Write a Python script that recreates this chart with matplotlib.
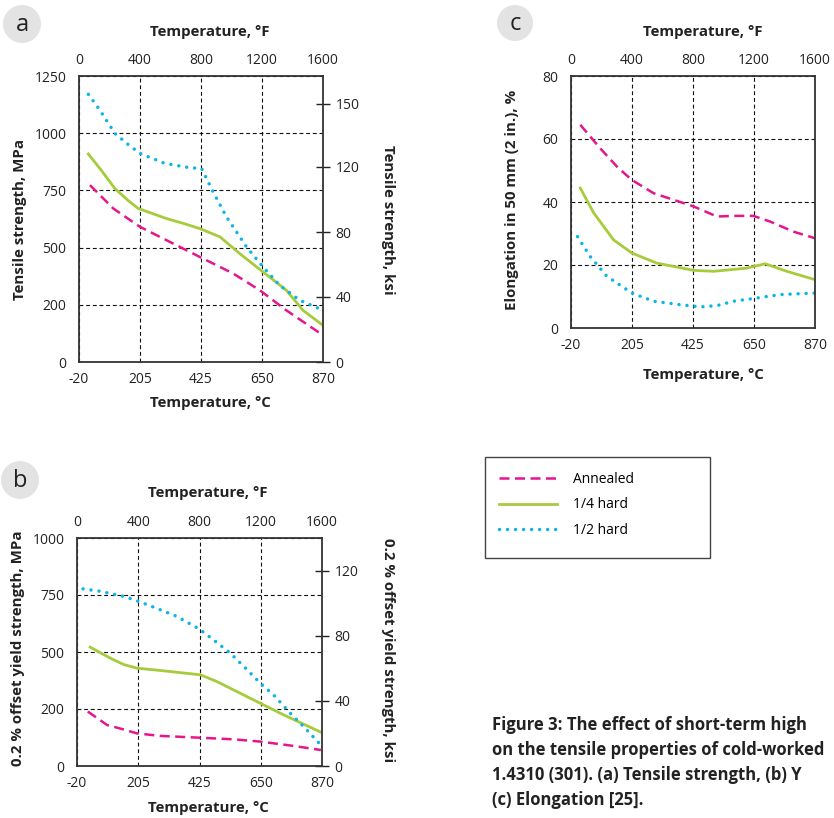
import matplotlib
matplotlib.use("Agg")
import matplotlib.pyplot as plt
from matplotlib.patches import Circle, Rectangle
from matplotlib.lines import Line2D
import numpy as np

plt.rcParams['font.family'] = ['Open Sans', 'DejaVu Sans']

W, H = 834, 818

# x axis (deg C) tick labels, and matching deg F labels on top
c_ticks = ["-20", "205", "425", "650", "870"]
f_ticks = ["0", "400", "800", "1200", "1600"]

# panel a: tensile strength, MPa
a_ann_x = [20, 105, 202, 323, 421, 542, 639, 736, 870]
a_ann_y = [773, 671, 591, 518, 459, 387, 314, 226, 117]
a_q_x = [14, 60, 111, 160, 196, 250, 299, 360, 421, 494, 566, 651, 736, 797, 870]
a_q_y = [909, 840, 758, 705, 671, 648, 627, 606, 583, 547, 474, 394, 314, 226, 160]
a_h_x = [14, 56, 111, 160, 202, 293, 384, 427, 439, 469, 518, 591, 651, 712, 785, 870]
a_h_y = [1170, 1101, 999, 950, 912, 868, 849, 846, 817, 744, 634, 503, 416, 335, 270, 226]
a_left_ticks = ["0", "200", "500", "750", "1000", "1250"]
a_right_ticks = ["0", "40", "80", "120", "150"]

# panel b: 0.2 % offset yield strength, MPa
b_ann_x = [19, 89, 150, 198, 283, 428, 549, 646, 767, 866]
b_ann_y = [239, 180, 160, 143, 132, 124, 117, 107, 88, 70]
b_q_x = [28, 101, 150, 198, 283, 428, 489, 573, 646, 731, 870]
b_q_y = [521, 473, 445, 429, 419, 400, 370, 319, 275, 224, 146]
b_h_x = [2, 65, 150, 204, 283, 343, 425, 476, 537, 598, 646, 694, 755, 803, 866]
b_h_y = [777, 766, 744, 722, 685, 656, 600, 553, 495, 422, 363, 312, 231, 173, 92]
b_left_ticks = ["0", "200", "500", "750", "1000"]
b_right_ticks = ["0", "40", "80", "120"]

# panel c: elongation, %
c_ann_x = [14, 87, 150, 202, 281, 427, 512, 580, 645, 706, 791, 870]
c_ann_y = [64.5, 57, 51, 47, 42.8, 38.6, 35.4, 35.6, 35.6, 33.8, 30.6, 28.5]
c_q_x = [14, 63, 135, 202, 293, 427, 500, 621, 688, 767, 864]
c_q_y = [44.4, 36.5, 28, 23.8, 20.6, 18.3, 18, 19, 20.4, 18, 15.5]
c_h_x = [4, 50, 111, 202, 281, 378, 451, 512, 573, 657, 742, 870]
c_h_y = [29, 22.7, 16.4, 11.1, 8.5, 7.4, 6.7, 7.1, 8.5, 9.5, 10.6, 11.1]

labels = ["Annealed", "1/4 hard", "1/2 hard"]
MAG, GRN, CYN = "#e5168c", "#a6cb3b", "#0bb5e6"
styles = [
    dict(color=MAG, lw=1.8, ls=(0, (4.0, 2.2))),
    dict(color=GRN, lw=2.0, ls="-"),
    dict(color=CYN, lw=2.5, ls=(0, (0.01, 2.3)), dash_capstyle="round"),
]

fig = plt.figure(figsize=(W / 100, H / 100), dpi=100)


def fx(px):
    return px / W


def fy(py):
    return 1 - py / H


def panel(box, series, ymax, left_labels, right=None):
    x0, y0, x1, y1 = box
    ax = fig.add_axes([fx(x0), fy(y1), fx(x1) - fx(x0), fy(y0) - fy(y1)])
    for (xs, ys), st in zip(series, styles):
        ax.plot(xs, ys, **st)
    ax.set_xlim(-20, 870)
    ax.set_ylim(0, ymax)
    xt = np.linspace(-20, 870, 5)
    ax.set_xticks(xt, c_ticks)
    yt = np.linspace(0, ymax, len(left_labels))
    ax.set_yticks(yt, left_labels)
    ax.tick_params(length=0, labelsize=10, colors="#222222")
    ax.tick_params(axis="x", pad=7)
    ax.tick_params(axis="y", pad=9)
    ax.grid(True, color="#111111", lw=0.8, ls=(0, (3.5, 2.5)))
    for s in ax.spines.values():
        s.set_color("#333333")
        s.set_linewidth(1.3)
    top = ax.secondary_xaxis("top")
    top.set_xticks(xt, f_ticks)
    top.tick_params(length=0, labelsize=10, pad=6, colors="#222222")
    top.spines["top"].set_visible(False)
    if right is not None:
        rmax, rpos, rlabs = right
        k = rmax / ymax
        sec = ax.secondary_yaxis("right", functions=(lambda y: y * k, lambda y: y / k))
        sec.set_yticks(rpos, rlabs)
        sec.tick_params(direction="inout", length=10, width=1.0, labelsize=10,
                        pad=4, colors="#222222")
        sec.spines["right"].set_visible(False)
    return ax


ax_a = panel((79, 76, 323, 362),
             [(a_ann_x, a_ann_y), (a_q_x, a_q_y), (a_h_x, a_h_y)],
             1250, a_left_ticks, right=(176, [0, 40, 80, 120, 159], a_right_ticks))
ax_b = panel((77, 538, 322, 766),
             [(b_ann_x, b_ann_y), (b_q_x, b_q_y), (b_h_x, b_h_y)],
             1000, b_left_ticks, right=(140, [0, 40, 80, 120], b_right_ticks))
ax_c = panel((571, 76, 815, 328),
             [(c_ann_x, c_ann_y), (c_q_x, c_q_y), (c_h_x, c_h_y)],
             80, ["0", "20", "40", "60", "80"])

bold = dict(fontsize=10.8, fontweight="bold", color="#222222", ha="center", va="center")

# axis titles placed as in the reference
titles = [
    (210, 32, 403, 20, 220, "Tensile strength, MPa", "Tensile strength, ksi", 220),
    (208, 493, 808, 18, 648, "0.2 % offset yield strength, MPa",
     "0.2 % offset yield strength, ksi", 650),
    (703, 32, 375, 512, 200, "Elongation in 50 mm (2 in.), %", None, None),
]
for xc, ytop, ybot, ylx, yly, ylab, rlab, ry in titles:
    fig.text(fx(xc), fy(ytop), "Temperature, °F", **bold)
    fig.text(fx(xc), fy(ybot), "Temperature, °C", **bold)
    fig.text(fx(ylx), fy(yly), ylab, rotation=90, **bold)
    if rlab is not None:
        fig.text(fx(388), fy(ry), rlab, rotation=-90, **bold)

# panel letters in grey circles
for letter, cx, cy, r in [("a", 22, 24, 19), ("b", 20, 480, 19), ("c", 515, 23, 18)]:
    fig.patches.append(Circle((cx / 100, (H - cy) / 100), r / 100,
                              transform=fig.dpi_scale_trans, fc="#e3e3e3", ec="none"))
    fig.text(fx(cx), fy(cy + 1), letter, fontsize=17, color="#222222",
             ha="center", va="center")

# legend box
fig.patches.append(Rectangle((fx(485), fy(558)), fx(710) - fx(485), fy(457) - fy(558),
                             transform=fig.transFigure, fc="white", ec="#444444", lw=1.0))
handles = [Line2D([], [], **st) for st in styles]
fig.legend(handles, labels, loc="upper left", bbox_to_anchor=(fx(499), fy(472)),
           frameon=False, fontsize=10, handlelength=4.2, handletextpad=1.1,
           labelspacing=0.75, borderpad=0, borderaxespad=0)

# caption, as much of it as the page shows
caption = [
    "Figure 3: The effect of short-term high",
    "on the tensile properties of cold-worked",
    "1.4310 (301). (a) Tensile strength, (b) Y",
    "(c) Elongation [25].",
]
for i, line in enumerate(caption):
    fig.text(fx(492), fy(725 + 25 * i), line, fontsize=12, fontweight="bold",
             color="#222222", ha="left", va="center")

fig.savefig("out.png", dpi=100)
